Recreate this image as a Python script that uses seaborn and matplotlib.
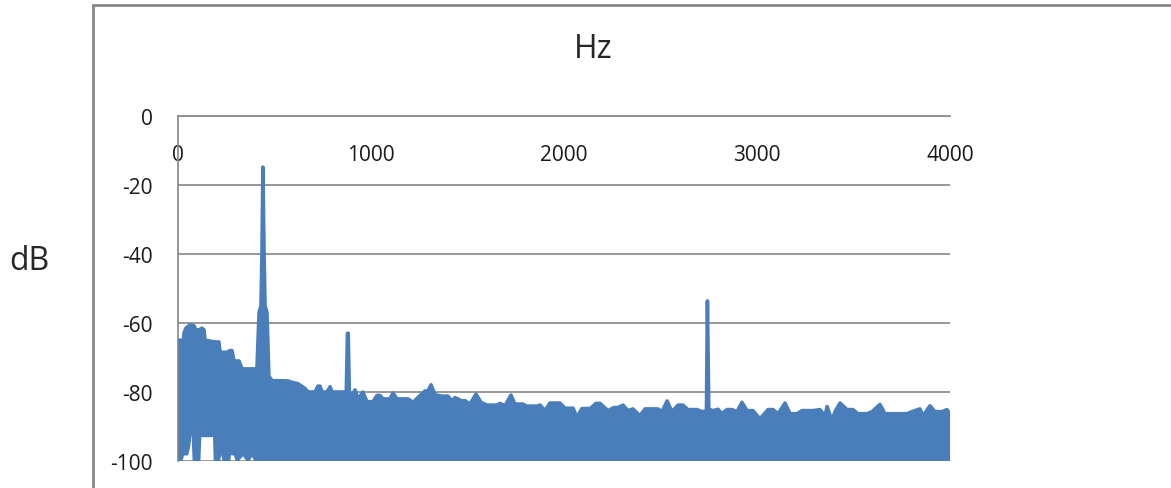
import numpy as np
import matplotlib
matplotlib.use("Agg")
import matplotlib.pyplot as plt
from matplotlib.lines import Line2D
from matplotlib.ticker import MultipleLocator
import seaborn as sns

# Upper envelope of the spectrum (Hz, dB)
top_freq = [0, 16, 21, 31, 41, 62, 83, 93, 109, 124, 135, 140, 192, 212, 218, 254, 269, 280,
            290, 316, 332, 409, 420, 430, 435, 440, 446, 451, 461, 471, 487, 570, 591, 622,
            658, 674, 710, 725, 736, 746, 772, 788, 798, 855, 872, 878, 882, 888, 891, 917,
            933, 958, 979, 1010, 1031, 1047, 1062, 1098, 1114, 1135, 1192, 1218, 1243, 1280,
            1295, 1311, 1332, 1368, 1399, 1420, 1435, 1471, 1487, 1513, 1544, 1570, 1601,
            1653, 1668, 1694, 1725, 1746, 1787, 1808, 1860, 1876, 1901, 1927, 1979, 2005,
            2047, 2067, 2093, 2135, 2166, 2186, 2202, 2228, 2259, 2280, 2306, 2331, 2357,
            2393, 2420, 2487, 2508, 2534, 2559, 2591, 2616, 2642, 2689, 2715, 2738, 2743,
            2750, 2772, 2798, 2818, 2844, 2870, 2896, 2922, 2948, 2979, 3015, 3057, 3083,
            3109, 3145, 3171, 3207, 3233, 3290, 3326, 3352, 3363, 3388, 3404, 3430, 3466,
            3497, 3523, 3570, 3596, 3637, 3663, 3777, 3803, 3844, 3860, 3896, 3922, 3958,
            3984, 4000]
top_db = [-65, -65, -71, -63, -61.5, -60.6, -60.8, -62, -62, -61.5, -62, -65, -65.5, -65.5,
          -68.5, -68.5, -68, -68, -71, -71, -73.3, -73.3, -57, -55, -40, -14.8, -40, -55,
          -57, -75.4, -76.7, -76.8, -77.2, -77.6, -79, -80, -80, -78.3, -78.3, -80, -80,
          -78.5, -80, -80, -80, -63, -63, -81, -82, -79.4, -82, -80, -82.8, -82.8, -81, -81,
          -82, -82, -80.3, -82, -82, -83, -81.6, -79.7, -79.7, -77.9, -80.8, -81.2, -81.2,
          -82.6, -81.6, -82.6, -82.5, -83.5, -80.6, -83, -83.8, -83.8, -83.3, -84, -80.9,
          -83.5, -83.5, -84.1, -84.1, -83.8, -85.4, -83.2, -83.2, -84.7, -84.7, -87.3,
          -84.8, -84.8, -83.3, -83.3, -84.1, -85.4, -84.5, -84.5, -83.8, -85.4, -84.9,
          -86.9, -84.9, -84.9, -85.7, -82.6, -85.7, -83.8, -83.8, -85.1, -85.1, -85.7,
          -85.5, -53.6, -85, -85.4, -85, -86.3, -85.1, -85.1, -85.7, -83, -85.4, -85.4,
          -87.8, -85.1, -85.1, -86.3, -83.2, -86.3, -86.3, -85.4, -85.4, -85.1, -86.9,
          -84.2, -88.3, -85.7, -83.2, -85.1, -85.1, -86.3, -86.3, -85.7, -83.6, -86.3,
          -86.3, -85.7, -84.9, -86.9, -84, -85.7, -85.7, -85.1, -86.3]

# Lower envelope (only the low band below ~450 Hz leaves gaps)
low_freq = [0, 16, 26, 47, 57, 73, 83, 109, 114, 176, 187, 192, 212, 218, 228, 238, 264,
            269, 280, 295, 306, 337, 363, 383, 404, 420, 430, 435, 4000]
low_db = [-100, -100, -98, -98, -95.6, -86.4, -100, -100, -92.7, -92.7, -89.3, -100, -100,
          -97.4, -97.4, -100, -100, -97.4, -98, -98, -100, -98, -100, -98, -100, -100,
          -93.6, -100, -100]

x_ticks = [0, 1000, 2000, 3000, 4000]
y_ticks = [-100, -80, -60, -40, -20, 0]

blue = "#4a7ebb"
gray = "#868686"

sns.set_theme(style="white")
plt.rcParams["font.family"] = ["Open Sans", "DejaVu Sans"]
plt.rcParams["axes.unicode_minus"] = False

fig = plt.figure(figsize=(11.71, 4.89), dpi=100)
ax = fig.add_axes([0.152, 0.0552, 0.6593, 0.7055])

# filled spectrum: upper envelope forward, lower envelope back
poly_x = np.r_[top_freq, low_freq[::-1]]
poly_y = np.r_[top_db, low_db[::-1]]
ax.fill(poly_x, poly_y, color=blue, lw=0, zorder=2)
sns.lineplot(x=top_freq, y=top_db, color=blue, lw=2.6, ax=ax, zorder=3,
             solid_joinstyle="round", solid_capstyle="round")
sns.lineplot(x=low_freq, y=low_db, color=blue, lw=2.0, ax=ax, zorder=3,
             solid_joinstyle="round")

ax.set_xlim(0, 4000)
ax.set_ylim(-100, 0)
ax.set_xlabel("")
ax.set_ylabel("")

# x axis sits at 0 dB (top), ticks hanging down
ax.spines["bottom"].set_position(("data", 0))
ax.spines["bottom"].set_color(gray)
ax.spines["bottom"].set_linewidth(1.2)
ax.spines["left"].set_color(gray)
ax.spines["left"].set_linewidth(1.2)
ax.spines["top"].set_visible(False)
ax.spines["right"].set_visible(False)

ax.set_xticks(x_ticks)
ax.set_xticklabels([str(t) for t in x_ticks])
ax.xaxis.set_minor_locator(MultipleLocator(200))
ax.tick_params(axis="x", which="major", direction="out", length=8, width=1.2,
               color=gray, pad=12, labelsize=15, labelcolor="#1a1a1a")
ax.tick_params(axis="x", which="minor", direction="out", length=5, width=1.2, color=gray)

ax.set_yticks(y_ticks)
ax.set_yticklabels([str(t) for t in y_ticks])
ax.yaxis.set_minor_locator(MultipleLocator(4))
ax.tick_params(axis="y", which="major", direction="in", length=5, width=1.2,
               color=gray, pad=18, labelsize=15, labelcolor="#1a1a1a")
ax.tick_params(axis="y", which="minor", direction="in", length=5, width=1.2, color=gray)

ax.yaxis.grid(True, which="major", color=gray, lw=1.2, zorder=1)
ax.xaxis.grid(False)
ax.set_axisbelow(True)

fig.text(593 / 1171, 1 - 50 / 489, "Hz", ha="center", va="center", fontsize=23, color="#262626")
fig.text(29 / 1171, 1 - 262 / 489, "dB", ha="center", va="center", fontsize=23, color="#262626")

# chart frame (left and top edges visible in the crop)
fig.add_artist(Line2D([93 / 1171, 93 / 1171], [0, 1 - 6 / 489], color=gray, lw=2))
fig.add_artist(Line2D([93 / 1171, 1], [1 - 6 / 489, 1 - 6 / 489], color=gray, lw=2))

fig.savefig("out.png", dpi=100)
